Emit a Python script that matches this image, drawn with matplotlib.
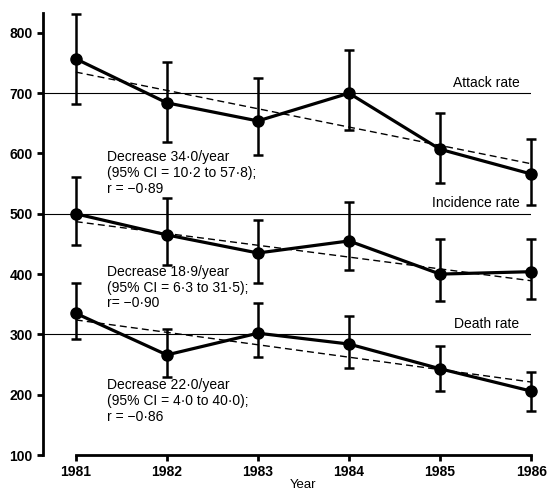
import matplotlib
matplotlib.use('Agg')
import matplotlib.pyplot as plt

plt.rcParams['font.family'] = ['Liberation Sans', 'DejaVu Sans']

years = [1981, 1982, 1983, 1984, 1985, 1986]

# attack rate
attack = [757, 684, 654, 700, 607, 566]
attack_hi = [831, 752, 725, 772, 667, 624]
attack_lo = [682, 619, 598, 639, 551, 515]
attack_fit = [735, 583]

# incidence rate
incid = [500, 465, 435, 455, 400, 404]
incid_hi = [561, 526, 490, 520, 458, 458]
incid_lo = [449, 415, 385, 407, 356, 359]
incid_fit = [487, 389]

# death rate
death = [335, 266, 302, 284, 243, 206]
death_hi = [385, 309, 352, 331, 281, 238]
death_lo = [293, 229, 263, 245, 206, 173]
death_fit = [324, 221]

ref_levels = [700, 500, 300]
ref_labels = ['Attack rate', 'Incidence rate', 'Death rate']
notes = ['Decrease 34\u00b70/year\n(95% CI = 10\u00b72 to 57\u00b78);\nr = \u22120\u00b789',
         'Decrease 18\u00b79/year\n(95% CI = 6\u00b73 to 31\u00b75);\nr= \u22120\u00b790',
         'Decrease 22\u00b70/year\n(95% CI = 4\u00b70 to 40\u00b70);\nr = \u22120\u00b786']
note_y = [605, 415, 227]

fig = plt.figure(figsize=(5.47, 4.92), dpi=100)
ax = fig.add_axes([0.0786, 0.0752, 0.971 - 0.0786, 0.9736 - 0.0752])

for lev, lab in zip(ref_levels, ref_labels):
    ax.plot([1980.64, 1986], [lev, lev], color='black', lw=0.8, zorder=1)
    ax.text(1985.87, lev + 6, lab, ha='right', va='bottom', fontsize=10)

series = [(attack, attack_hi, attack_lo, attack_fit),
          (incid, incid_hi, incid_lo, incid_fit),
          (death, death_hi, death_lo, death_fit)]
for vals, hi, lo, fit in series:
    err = [[v - l for v, l in zip(vals, lo)], [h - v for v, h in zip(vals, hi)]]
    ax.errorbar(years, vals, yerr=err, color='black', lw=2.3, marker='o',
                markersize=8, elinewidth=1.8, capsize=3.5, capthick=1.8,
                clip_on=False, zorder=3)
    ax.plot([years[0], years[-1]], fit, color='black', lw=1.0,
            linestyle=(0, (5, 3)), zorder=2)

for txt, y in zip(notes, note_y):
    ax.text(1981.34, y, txt, ha='left', va='top', fontsize=10,
            linespacing=1.15)

ax.set_xlim(1980.64, 1986.0)
ax.set_ylim(100, 833)
ax.set_xticks(years)
ax.set_yticks([100, 200, 300, 400, 500, 600, 700, 800])
ax.spines['top'].set_visible(False)
ax.spines['right'].set_visible(False)
ax.spines['left'].set_linewidth(2)
ax.spines['bottom'].set_linewidth(2)
ax.spines['bottom'].set_bounds(1981, 1986)
ax.tick_params(direction='out', length=4, width=2, labelsize=10)
ax.tick_params(axis='x', pad=3)
for lab in ax.get_xticklabels() + ax.get_yticklabels():
    lab.set_fontweight('bold')

fig.text(303 / 547, 1 - 485 / 492, 'Year', ha='center', va='center',
         fontsize=9.5)

fig.savefig('out.png', dpi=100)
